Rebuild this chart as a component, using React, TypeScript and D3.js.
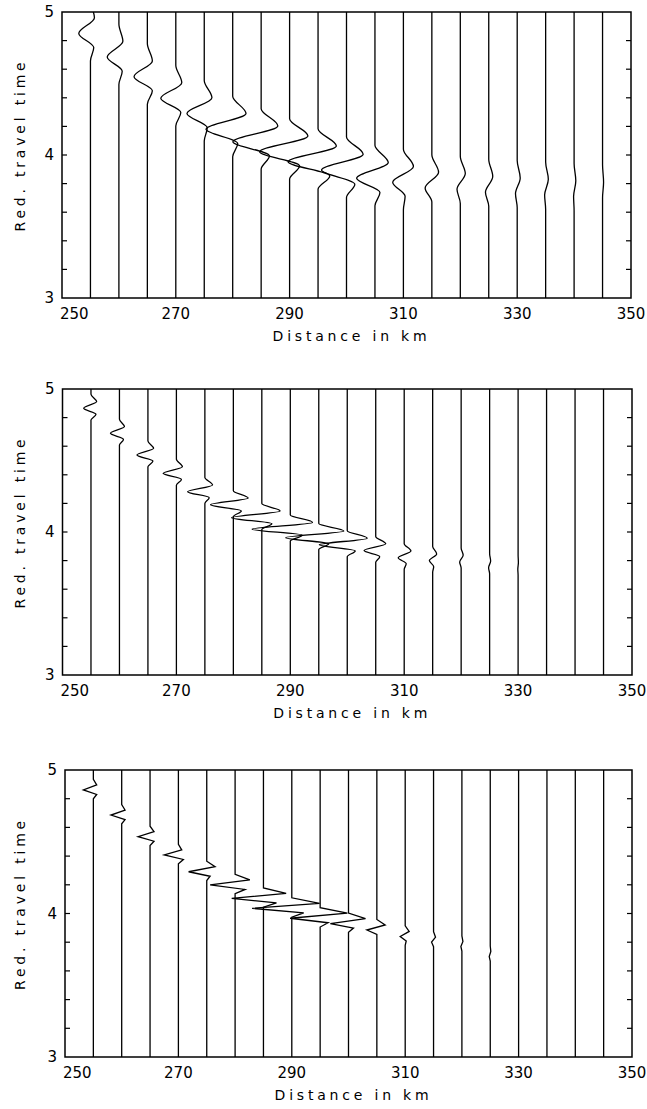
import React from 'react';
import * as d3 from 'd3';

// ---- shared axes data ----
const distances = [255, 260, 265, 270, 275, 280, 285, 290, 295, 300, 305, 310, 315, 320, 325, 330, 335, 340, 345];
const xTickLabels = [250, 270, 290, 310, 330, 350];
const yTickLabels = [3, 4, 5];
const yMinorTicks = [3.2, 3.4, 3.6, 3.8, 4.0, 4.2, 4.4, 4.6, 4.8];
const xDomain = [250, 350];
const yDomain = [3, 5];

// ---- panel 1 (low frequency) : arrival time of main lobe, later lobe, main lobe, earlier lobe (deflection in km) ----
const p1Time = [4.85, 4.685, 4.548, 4.396, 4.29, 4.18, 4.093, 4.023, 3.953, 3.895, 3.837, 3.81, 3.77, 3.76, 3.74, 3.73, 3.72, 3.71, 3.7];
const p1Late = [0.7, 0.7, 0.88, 1.05, 1.35, 2.34, 2.93, 3.22, 3.22, 2.93, 2.34, 1.76, 1.18, 0.88, 0.7, 0.53, 0.47, 0.3, 0.18];
const p1Main = [-2.05, -2.05, -2.34, -2.64, -3.04, -4.69, -4.97, -5.27, -5.27, -4.39, -3.22, -1.88, -1.18, -0.58, -0.58, -0.3, -0.18, -0.09, 0];
const p1Early = [0.58, 0.58, 0.88, 0.88, 0.53, 0.88, 1.46, 1.76, 2.06, 1.46, 0.88, 0.3, 0, 0, 0, 0, 0, 0, 0];

// ---- panel 2 (medium frequency) ----
const p2Time = [4.865, 4.69, 4.538, 4.41, 4.282, 4.19, 4.1, 4.02, 3.96, 3.91, 3.87, 3.82, 3.8, 3.79, 3.75, 3.74, 3.73, 3.72, 3.71];
const p2Late = [1.0, 0.88, 1.0, 1.05, 1.35, 2.6, 3.2, 3.9, 4.4, 3.5, 1.76, 1.18, 0.7, 0.35, 0.18, 0.05, 0, 0, 0];
const p2Main = [-1.28, -1.58, -1.93, -2.34, -3.04, -4.0, -5.3, -6.7, -5.8, -4.9, -2.05, -1.05, -0.58, -0.26, -0.18, -0.05, 0, 0, 0];
const p2Early = [0.88, 0.7, 0.88, 0.88, 0.76, 1.4, 1.76, 2.1, 1.76, 1.4, 0.7, 0.35, 0.18, 0, 0, 0, 0, 0, 0];

// ---- panel 3 (high frequency) ----
const p3Time = [4.861, 4.686, 4.535, 4.408, 4.291, 4.199, 4.105, 4.036, 3.967, 3.93, 3.885, 3.84, 3.8, 3.77, 3.7, 3.7, 3.7, 3.7, 3.7];
const p3Late = [0.59, 0.59, 0.7, 0.59, 1.47, 2.6, 4.0, 4.9, 4.8, 3.0, 1.47, 0.7, 0.35, 0.18, 0.1, 0, 0, 0, 0];
const p3Main = [-1.76, -1.89, -2.1, -2.5, -3.2, -4.4, -5.6, -7.0, -5.3, -3.2, -1.76, -0.88, -0.35, -0.18, -0.18, 0, 0, 0, 0];
const p3Early = [0.59, 0.59, 0.7, 0.88, 0.59, 1.76, 2.3, 2.1, 1.4, 0.88, 0, 0.18, 0, 0, 0, 0, 0, 0, 0];

type Panel = {
  top: number; bottom: number; left: number; right: number;
  time: number[]; late: number[]; main: number[]; early: number[];
  lobe: number; curve: d3.CurveFactory;
};

const panels: Panel[] = [
  { top: 12, bottom: 298, left: 62, right: 631, time: p1Time, late: p1Late, main: p1Main, early: p1Early, lobe: 0.11, curve: d3.curveMonotoneY },
  { top: 389, bottom: 675, left: 62.5, right: 632, time: p2Time, late: p2Late, main: p2Main, early: p2Early, lobe: 0.047, curve: d3.curveMonotoneY },
  { top: 770, bottom: 1057, left: 65, right: 632, time: p3Time, late: p3Late, main: p3Main, early: p3Early, lobe: 0.035, curve: d3.curveLinear },
];

const FONT = '"DejaVu Sans", Verdana, sans-serif';

function PanelView({ p, idx }: { p: Panel; idx: number }) {
  const x = d3.scaleLinear().domain(xDomain).range([p.left, p.right]);
  const y = d3.scaleLinear().domain(yDomain).range([p.bottom, p.top]);
  const line = d3.line<[number, number]>()
    .x(d => x(d[0]))
    .y(d => y(d[1]))
    .curve(p.curve);
  const clipId = `clip-${idx}`;
  const cx = (p.left + p.right) / 2;
  const cy = (p.top + p.bottom) / 2;
  return (
    <g>
      <defs>
        <clipPath id={clipId}>
          <rect x={p.left} y={p.top} width={p.right - p.left} height={p.bottom - p.top} />
        </clipPath>
      </defs>
      <g clipPath={`url(#${clipId})`}>
        {distances.map((d, i) => {
          const t0 = p.time[i];
          const L = p.lobe;
          const pts: [number, number][] = [
            [d, 5.4],
            [d, t0 + 2.1 * L],
            [d + p.late[i], t0 + L],
            [d + p.main[i], t0],
            [d + p.early[i], t0 - 0.9 * L],
            [d, t0 - 1.75 * L],
            [d, 2.6],
          ];
          return <path key={d} d={line(pts) || ''} fill="none" stroke="#000" strokeWidth={1.3} />;
        })}
      </g>
      <rect x={p.left} y={p.top} width={p.right - p.left} height={p.bottom - p.top} fill="none" stroke="#000" strokeWidth={1.5} />
      {yMinorTicks.map(t => (
        <g key={t}>
          <line x1={p.left} x2={p.left + 5} y1={y(t)} y2={y(t)} stroke="#000" strokeWidth={1.2} />
          <line x1={p.right} x2={p.right - 5} y1={y(t)} y2={y(t)} stroke="#000" strokeWidth={1.2} />
        </g>
      ))}
      {yTickLabels.map(t => (
        <text key={t} x={p.left - 8} y={y(t)} dy="0.36em" textAnchor="end" fontFamily={FONT} fontSize={15} fill="#000">{t}</text>
      ))}
      {xTickLabels.map((t, i) => (
        <text key={t} x={i === 0 ? x(t) - 2 : x(t)} y={p.bottom + 21} textAnchor={i === 0 ? 'start' : 'middle'} fontFamily={FONT} fontSize={15} fill="#000">{t}</text>
      ))}
      <text x={cx + 5} y={p.bottom + 43} textAnchor="middle" fontFamily={FONT} fontSize={14} letterSpacing={3.8} fill="#000">Distance in km</text>
      <text transform={`translate(25,${cy - 10}) rotate(-90)`} textAnchor="middle" fontFamily={FONT} fontSize={14} letterSpacing={3.8} fill="#000">Red. travel time</text>
    </g>
  );
}

export default function App() {
  return (
    <svg width={647} height={1109} viewBox="0 0 647 1109" style={{ position: 'absolute', left: 0, top: 0, background: '#fff' }}>
      <rect x={0} y={0} width={647} height={1109} fill="#fff" />
      {panels.map((p, i) => <PanelView key={i} p={p} idx={i} />)}
    </svg>
  );
}
